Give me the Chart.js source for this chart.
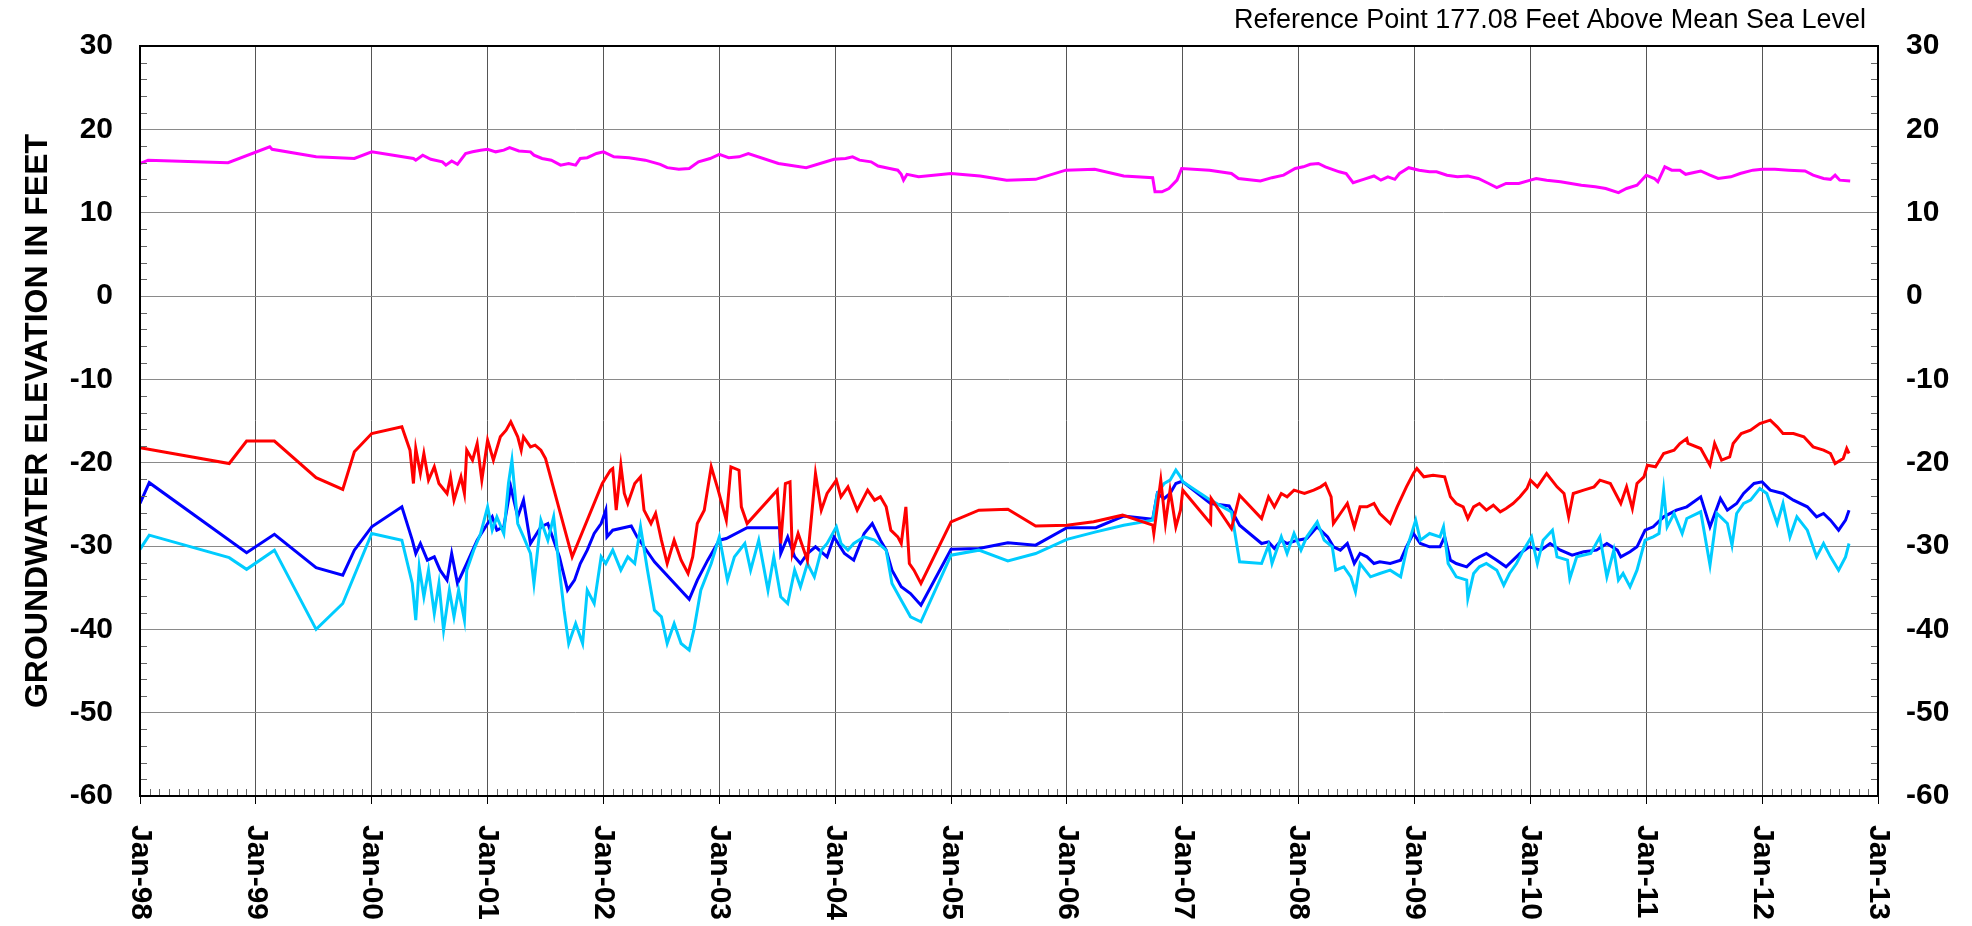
<!DOCTYPE html>
<html>
  <head>
    <title>Groundwater Elevation</title>
    <script src="https://cdn.jsdelivr.net/npm/chart.js"></script>
    <style>
      body { margin: 0; background: #fff; }
      #wrap { width: 1972px; height: 926px; }
    </style>
  </head>
  <body>
    <div id="wrap"><canvas id="levelChart"></canvas></div>

    <script>
      const yearLabels = ['Jan-98', 'Jan-99', 'Jan-00', 'Jan-01', 'Jan-02', 'Jan-03', 'Jan-04', 'Jan-05',
        'Jan-06', 'Jan-07', 'Jan-08', 'Jan-09', 'Jan-10', 'Jan-11', 'Jan-12', 'Jan-13'];
      const noteText = 'Reference Point 177.08 Feet Above Mean Sea Level';
      const axisTitle = 'GROUNDWATER ELEVATION IN FEET';

      // magenta well
      const magentaYears = [1998.00, 1998.07, 1998.76, 1999.12, 1999.14, 1999.52, 1999.85, 2000.00, 2000.36, 2000.38,
        2000.44, 2000.51, 2000.61, 2000.64, 2000.69, 2000.74, 2000.81, 2000.87, 2000.94, 2001.00,
        2001.07, 2001.14, 2001.19, 2001.27, 2001.37, 2001.40, 2001.47, 2001.55, 2001.63, 2001.70,
        2001.76, 2001.80, 2001.86, 2001.94, 2002.00, 2002.09, 2002.22, 2002.36, 2002.49, 2002.55,
        2002.65, 2002.74, 2002.82, 2002.92, 2003.00, 2003.08, 2003.17, 2003.25, 2003.51, 2003.75,
        2003.99, 2004.09, 2004.15, 2004.21, 2004.31, 2004.37, 2004.47, 2004.54, 2004.57, 2004.59,
        2004.62, 2004.72, 2005.00, 2005.25, 2005.48, 2005.73, 2005.99, 2006.24, 2006.49, 2006.74,
        2006.76, 2006.82, 2006.88, 2006.95, 2006.99, 2007.23, 2007.42, 2007.48, 2007.67, 2007.77,
        2007.87, 2007.97, 2008.04, 2008.10, 2008.17, 2008.23, 2008.35, 2008.41, 2008.47, 2008.56,
        2008.65, 2008.71, 2008.77, 2008.83, 2008.87, 2008.95, 2009.04, 2009.13, 2009.19, 2009.28,
        2009.37, 2009.46, 2009.55, 2009.64, 2009.71, 2009.79, 2009.90, 2010.00, 2010.05, 2010.14,
        2010.26, 2010.35, 2010.44, 2010.56, 2010.65, 2010.76, 2010.83, 2010.92, 2011.00, 2011.07,
        2011.10, 2011.16, 2011.22, 2011.29, 2011.34, 2011.47, 2011.55, 2011.62, 2011.73, 2011.81,
        2011.92, 2012.00, 2012.11, 2012.23, 2012.37, 2012.44, 2012.53, 2012.59, 2012.63, 2012.67,
        2012.76];
      const magentaFeet = [15.9, 16.3, 16.0, 17.9, 17.6, 16.7, 16.5, 17.3, 16.5, 16.3,
        16.9, 16.4, 16.1, 15.7, 16.2, 15.8, 17.1, 17.3, 17.5, 17.6,
        17.3, 17.5, 17.8, 17.4, 17.3, 16.9, 16.5, 16.3, 15.7, 15.9,
        15.7, 16.5, 16.6, 17.1, 17.3, 16.7, 16.6, 16.3, 15.8, 15.4,
        15.2, 15.3, 16.1, 16.5, 17.0, 16.6, 16.7, 17.1, 15.9, 15.4,
        16.4, 16.5, 16.7, 16.3, 16.1, 15.6, 15.3, 15.1, 14.6, 13.9,
        14.6, 14.3, 14.7, 14.4, 13.9, 14.0, 15.1, 15.2, 14.4, 14.2,
        12.5, 12.5, 12.9, 13.9, 15.3, 15.1, 14.7, 14.1, 13.8, 14.2,
        14.5, 15.3, 15.5, 15.8, 15.9, 15.5, 14.9, 14.7, 13.6, 14.0,
        14.4, 13.9, 14.3, 14.0, 14.7, 15.4, 15.1, 14.9, 14.9, 14.5,
        14.3, 14.4, 14.1, 13.5, 13.0, 13.5, 13.5, 13.9, 14.1, 13.9,
        13.7, 13.5, 13.3, 13.1, 12.9, 12.4, 12.9, 13.3, 14.5, 14.1,
        13.7, 15.5, 15.1, 15.1, 14.6, 15.0, 14.5, 14.1, 14.3, 14.7,
        15.1, 15.2, 15.2, 15.1, 15.0, 14.5, 14.1, 14.0, 14.5, 13.9,
        13.8];

      // red well
      const redYears = [1998.00, 1998.77, 1998.92, 1999.16, 1999.52, 1999.75, 1999.85, 2000.00, 2000.26, 2000.33,
        2000.36, 2000.38, 2000.42, 2000.45, 2000.49, 2000.54, 2000.58, 2000.65, 2000.68, 2000.71,
        2000.77, 2000.80, 2000.82, 2000.87, 2000.91, 2000.95, 2001.00, 2001.05, 2001.11, 2001.16,
        2001.20, 2001.26, 2001.29, 2001.31, 2001.37, 2001.41, 2001.46, 2001.50, 2001.73, 2001.99,
        2002.06, 2002.08, 2002.11, 2002.15, 2002.18, 2002.21, 2002.27, 2002.32, 2002.35, 2002.41,
        2002.45, 2002.50, 2002.55, 2002.61, 2002.67, 2002.73, 2002.77, 2002.81, 2002.87, 2002.93,
        2002.99, 2003.06, 2003.10, 2003.17, 2003.19, 2003.24, 2003.50, 2003.53, 2003.57, 2003.61,
        2003.63, 2003.68, 2003.73, 2003.76, 2003.79, 2003.83, 2003.88, 2003.93, 2004.01, 2004.05,
        2004.11, 2004.19, 2004.28, 2004.34, 2004.39, 2004.44, 2004.48, 2004.54, 2004.57, 2004.61,
        2004.64, 2004.68, 2004.74, 2005.00, 2005.24, 2005.49, 2005.73, 2006.00, 2006.23, 2006.48,
        2006.74, 2006.75, 2006.81, 2006.85, 2006.89, 2006.94, 2006.98, 2007.00, 2007.24, 2007.245,
        2007.42, 2007.49, 2007.68, 2007.74, 2007.79, 2007.85, 2007.90, 2007.96, 2008.05, 2008.13,
        2008.19, 2008.23, 2008.28, 2008.30, 2008.36, 2008.42, 2008.48, 2008.53, 2008.59, 2008.65,
        2008.70, 2008.79, 2008.85, 2008.93, 2008.99, 2009.02, 2009.08, 2009.16, 2009.26, 2009.31,
        2009.36, 2009.42, 2009.46, 2009.51, 2009.56, 2009.62, 2009.68, 2009.74, 2009.79, 2009.85,
        2009.91, 2009.97, 2010.00, 2010.06, 2010.14, 2010.23, 2010.29, 2010.33, 2010.37, 2010.46,
        2010.55, 2010.60, 2010.69, 2010.78, 2010.83, 2010.88, 2010.92, 2010.98, 2011.01, 2011.08,
        2011.15, 2011.24, 2011.29, 2011.35, 2011.36, 2011.47, 2011.55, 2011.59, 2011.65, 2011.72,
        2011.75, 2011.82, 2011.90, 2011.98, 2012.07, 2012.13, 2012.18, 2012.27, 2012.36, 2012.44,
        2012.53, 2012.59, 2012.63, 2012.70, 2012.73, 2012.75];
      const redFeet = [-18.2, -20.1, -17.4, -17.4, -21.8, -23.2, -18.7, -16.5, -15.7, -18.5,
        -22.5, -18.3, -21.3, -18.9, -22.1, -20.5, -22.5, -23.7, -21.7, -24.5,
        -21.7, -23.7, -18.5, -19.7, -17.7, -22.1, -17.3, -19.7, -16.9, -16.1,
        -15.1, -16.9, -18.5, -16.9, -18.1, -17.9, -18.5, -19.5, -31.3, -22.5,
        -20.9, -20.7, -25.7, -20.3, -23.7, -24.9, -22.5, -21.7, -25.7, -27.3,
        -26.1, -29.3, -32.1, -29.3, -31.7, -33.3, -31.3, -27.3, -25.7, -20.5,
        -23.3, -26.9, -20.5, -20.9, -25.3, -27.3, -23.3, -29.7, -22.5, -22.3,
        -30.9, -28.5, -30.5, -31.7, -27.3, -21.3, -25.7, -23.7, -22.1, -24.1,
        -22.9, -25.7, -23.3, -24.5, -24.1, -25.3, -28.1, -28.9, -29.7, -25.3,
        -32.1, -32.9, -34.5, -27.1, -25.7, -25.6, -27.6, -27.5, -27.1, -26.3,
        -27.5, -28.5, -22.1, -27.3, -23.3, -27.7, -25.7, -23.3, -27.3, -24.3,
        -27.9, -23.9, -26.7, -24.1, -25.3, -23.7, -24.1, -23.3, -23.7, -23.3,
        -22.9, -22.5, -24.1, -27.3, -26.1, -24.9, -27.7, -25.3, -25.3, -24.9,
        -26.1, -27.3, -25.3, -22.9, -21.3, -20.7, -21.7, -21.5, -21.7, -24.1,
        -24.9, -25.3, -26.7, -25.3, -24.9, -25.7, -25.1, -25.9, -25.5, -24.9,
        -24.1, -23.1, -22.1, -22.9, -21.3, -22.9, -23.7, -26.5, -23.7, -23.3,
        -22.9, -22.1, -22.5, -24.9, -22.9, -25.5, -22.5, -21.7, -20.3, -20.5,
        -18.9, -18.5, -17.7, -17.1, -17.7, -18.3, -20.3, -17.7, -19.7, -19.3,
        -17.7, -16.5, -16.1, -15.3, -14.9, -15.7, -16.5, -16.5, -16.9, -18.1,
        -18.5, -18.9, -20.1, -19.5, -18.3, -18.9];

      // blue well
      const blueYears = [1998.00, 1998.08, 1998.92, 1999.16, 1999.52, 1999.75, 1999.85, 2000.00, 2000.26, 2000.35,
        2000.38, 2000.42, 2000.48, 2000.54, 2000.59, 2000.65, 2000.69, 2000.74, 2000.82, 2000.91,
        2001.00, 2001.04, 2001.08, 2001.14, 2001.20, 2001.26, 2001.31, 2001.37, 2001.46, 2001.52,
        2001.57, 2001.62, 2001.69, 2001.75, 2001.80, 2001.86, 2001.92, 2001.98, 2002.02, 2002.03,
        2002.08, 2002.24, 2002.29, 2002.44, 2002.74, 2002.81, 2002.90, 2003.00, 2003.06, 2003.24,
        2003.52, 2003.53, 2003.59, 2003.65, 2003.70, 2003.76, 2003.83, 2003.93, 2003.99, 2004.08,
        2004.16, 2004.25, 2004.32, 2004.39, 2004.44, 2004.49, 2004.57, 2004.65, 2004.74, 2005.00,
        2005.24, 2005.49, 2005.73, 2006.00, 2006.25, 2006.49, 2006.74, 2006.78, 2006.84, 2006.89,
        2006.94, 2006.98, 2007.00, 2007.24, 2007.40, 2007.49, 2007.68, 2007.74, 2007.79, 2007.85,
        2007.90, 2007.99, 2008.07, 2008.16, 2008.25, 2008.30, 2008.36, 2008.42, 2008.48, 2008.53,
        2008.59, 2008.65, 2008.70, 2008.79, 2008.88, 2008.93, 2008.99, 2009.05, 2009.13, 2009.22,
        2009.26, 2009.31, 2009.36, 2009.45, 2009.51, 2009.56, 2009.62, 2009.71, 2009.79, 2009.85,
        2009.91, 2009.99, 2010.09, 2010.17, 2010.26, 2010.36, 2010.46, 2010.57, 2010.66, 2010.75,
        2010.78, 2010.86, 2010.92, 2010.99, 2011.06, 2011.15, 2011.26, 2011.35, 2011.47, 2011.55,
        2011.64, 2011.70, 2011.78, 2011.84, 2011.93, 2012.00, 2012.07, 2012.18, 2012.27, 2012.39,
        2012.47, 2012.53, 2012.59, 2012.66, 2012.72, 2012.75];
      const blueFeet = [-24.9, -22.4, -30.8, -28.6, -32.6, -33.5, -30.5, -27.7, -25.3, -29.3,
        -30.9, -29.7, -31.7, -31.3, -32.9, -34.1, -30.9, -34.5, -32.1, -29.3,
        -27.3, -26.5, -28.1, -27.7, -22.9, -26.5, -24.5, -29.7, -27.7, -27.3,
        -29.3, -31.3, -35.3, -34.1, -32.1, -30.5, -28.5, -27.3, -25.7, -28.9,
        -28.1, -27.6, -28.9, -31.9, -36.4, -34.1, -31.7, -29.3, -29.1, -27.8,
        -27.8, -30.9, -28.9, -31.3, -32.1, -30.9, -30.1, -31.3, -28.9, -30.9,
        -31.7, -28.5, -27.3, -29.3, -30.5, -32.9, -34.9, -35.7, -37.1, -30.4,
        -30.3, -29.6, -29.9, -27.8, -27.8, -26.4, -26.8, -23.7, -24.3, -23.7,
        -22.5, -22.3, -22.3, -24.9, -25.2, -27.5, -29.7, -29.5, -30.3, -29.3,
        -29.7, -29.3, -29.1, -27.7, -28.9, -30.1, -30.5, -29.7, -32.1, -30.9,
        -31.3, -32.1, -31.9, -32.1, -31.7, -30.1, -28.5, -29.7, -30.1, -30.1,
        -28.9, -31.7, -32.1, -32.5, -31.7, -31.3, -30.9, -31.7, -32.5, -31.7,
        -30.9, -30.1, -30.5, -29.7, -30.5, -31.1, -30.7, -30.5, -29.7, -30.5,
        -31.3, -30.7, -30.1, -28.1, -27.7, -26.5, -25.7, -25.3, -24.1, -27.7,
        -24.3, -25.7, -24.9, -23.7, -22.5, -22.3, -23.3, -23.7, -24.5, -25.3,
        -26.5, -26.1, -26.9, -28.1, -26.9, -25.7];

      // cyan well
      const cyanYears = [1998.00, 1998.08, 1998.77, 1998.92, 1999.16, 1999.52, 1999.75, 2000.00, 2000.26, 2000.35,
        2000.38, 2000.41, 2000.45, 2000.49, 2000.54, 2000.58, 2000.62, 2000.67, 2000.71, 2000.75,
        2000.80, 2000.82, 2000.88, 2000.94, 2001.00, 2001.04, 2001.08, 2001.14, 2001.18, 2001.21,
        2001.26, 2001.31, 2001.37, 2001.40, 2001.46, 2001.52, 2001.57, 2001.62, 2001.66, 2001.70,
        2001.76, 2001.82, 2001.86, 2001.92, 2001.98, 2002.02, 2002.08, 2002.15, 2002.21, 2002.27,
        2002.32, 2002.38, 2002.44, 2002.50, 2002.55, 2002.61, 2002.67, 2002.74, 2002.78, 2002.84,
        2002.93, 2003.00, 2003.07, 2003.13, 2003.22, 2003.27, 2003.34, 2003.42, 2003.47, 2003.53,
        2003.59, 2003.65, 2003.70, 2003.76, 2003.82, 2003.88, 2003.93, 2004.01, 2004.05, 2004.11,
        2004.16, 2004.25, 2004.34, 2004.44, 2004.49, 2004.57, 2004.65, 2004.74, 2005.00, 2005.24,
        2005.49, 2005.73, 2006.00, 2006.25, 2006.49, 2006.74, 2006.78, 2006.84, 2006.89, 2006.94,
        2006.98, 2007.00, 2007.24, 2007.42, 2007.49, 2007.68, 2007.74, 2007.77, 2007.85, 2007.90,
        2007.96, 2008.02, 2008.07, 2008.16, 2008.22, 2008.29, 2008.32, 2008.39, 2008.45, 2008.49,
        2008.53, 2008.62, 2008.70, 2008.79, 2008.88, 2008.93, 2009.01, 2009.05, 2009.13, 2009.22,
        2009.25, 2009.29, 2009.36, 2009.45, 2009.46, 2009.51, 2009.56, 2009.62, 2009.71, 2009.77,
        2009.82, 2009.88, 2009.94, 2010.01, 2010.06, 2010.11, 2010.19, 2010.23, 2010.32, 2010.34,
        2010.40, 2010.52, 2010.60, 2010.66, 2010.72, 2010.76, 2010.80, 2010.86, 2010.92, 2010.99,
        2011.06, 2011.11, 2011.15, 2011.18, 2011.24, 2011.31, 2011.35, 2011.47, 2011.55, 2011.61,
        2011.70, 2011.74, 2011.78, 2011.84, 2011.90, 2011.98, 2012.04, 2012.13, 2012.18, 2012.24,
        2012.30, 2012.39, 2012.47, 2012.53, 2012.59, 2012.66, 2012.72, 2012.75];
      const cyanFeet = [-30.4, -28.7, -31.4, -32.8, -30.5, -40.0, -36.9, -28.5, -29.3, -34.5,
        -38.9, -32.5, -36.1, -32.9, -38.1, -34.5, -40.1, -35.3, -38.5, -35.3,
        -38.9, -32.9, -30.5, -28.5, -25.3, -28.1, -26.5, -28.5, -22.5, -19.7,
        -27.3, -28.9, -30.9, -34.5, -26.9, -29.3, -26.5, -32.9, -37.7, -41.7,
        -39.3, -41.7, -35.3, -36.9, -31.3, -32.1, -30.5, -32.9, -31.3, -32.1,
        -27.7, -32.9, -37.7, -38.5, -41.7, -39.3, -41.7, -42.5, -40.1, -35.3,
        -32.1, -28.9, -34.1, -31.3, -29.7, -32.9, -29.3, -35.3, -31.3, -36.1,
        -36.9, -32.9, -34.9, -32.1, -33.7, -30.5, -29.7, -27.7, -29.7, -30.5,
        -29.7, -28.9, -29.3, -30.5, -34.5, -36.5, -38.5, -39.1, -31.1, -30.5,
        -31.8, -30.9, -29.2, -28.3, -27.5, -26.9, -23.7, -22.5, -22.1, -20.9,
        -21.7, -22.3, -24.5, -25.9, -31.9, -32.1, -29.9, -32.1, -28.9, -30.9,
        -28.5, -30.5, -28.9, -27.1, -29.3, -30.1, -32.9, -32.5, -33.7, -35.5,
        -32.1, -33.7, -33.3, -32.9, -33.7, -30.5, -26.9, -29.3, -28.5, -28.9,
        -27.7, -32.1, -33.7, -34.1, -36.3, -33.3, -32.5, -32.1, -32.9, -34.7,
        -33.3, -32.1, -30.5, -28.9, -32.1, -29.3, -28.1, -31.3, -31.7, -33.9,
        -31.3, -30.9, -28.9, -33.7, -30.5, -34.1, -33.3, -34.9, -32.9, -29.3,
        -28.9, -28.5, -23.3, -27.7, -26.1, -28.5, -26.7, -25.9, -32.3, -26.1,
        -27.3, -29.9, -26.1, -24.9, -24.5, -23.1, -23.7, -27.3, -24.9, -28.9,
        -26.5, -28.1, -31.3, -29.7, -31.3, -32.9, -31.3, -29.7];

      const fontFamily = '"Liberation Sans", Arial, sans-serif';

      function toPoints(years, feet) {
        return years.map((yr, i) => ({ x: yr, y: feet[i] }));
      }

      function series(label, years, feet, color) {
        return {
          label: label,
          data: toPoints(years, feet),
          borderColor: color,
          backgroundColor: color,
          borderWidth: 3,
          pointRadius: 0,
          tension: 0,
          fill: false,
        };
      }

      // frame, minor ticks, rotated year labels and the reference note
      const decorations = {
        id: 'decorations',
        afterDraw(chart) {
          const ctx = chart.ctx;
          const area = chart.chartArea;
          const xs = chart.scales.x;
          const ys = chart.scales.y;
          ctx.save();

          ctx.lineWidth = 1;
          ctx.strokeStyle = '#666';
          ctx.beginPath();
          for (let v = -58; v < 30; v += 2) {
            if (v % 10 === 0) continue;
            const py = Math.round(ys.getPixelForValue(v)) + 0.5;
            ctx.moveTo(area.left, py);
            ctx.lineTo(area.left + 7, py);
            ctx.moveTo(area.right - 7, py);
            ctx.lineTo(area.right, py);
          }
          for (let m = 1; m < 180; m++) {
            if (m % 12 === 0) continue;
            const px = Math.round(xs.getPixelForValue(1998 + m / 12)) + 0.5;
            ctx.moveTo(px, area.bottom);
            ctx.lineTo(px, area.bottom - 7);
          }
          ctx.stroke();

          ctx.lineWidth = 2;
          ctx.strokeStyle = '#000';
          ctx.strokeRect(area.left, area.top, area.right - area.left, area.bottom - area.top);

          ctx.fillStyle = '#000';
          ctx.font = 'bold 30px ' + fontFamily;
          ctx.textAlign = 'left';
          ctx.textBaseline = 'middle';
          xs.ticks.forEach((t, i) => {
            const px = xs.getPixelForValue(t.value);
            ctx.save();
            ctx.translate(px, area.bottom + 29);
            ctx.rotate(Math.PI / 2);
            ctx.fillText(yearLabels[i], 0, 0);
            ctx.restore();
          });

          ctx.font = '27px ' + fontFamily;
          ctx.textAlign = 'right';
          ctx.textBaseline = 'alphabetic';
          ctx.fillText(noteText, area.right - 12, 28);
          ctx.restore();
        },
      };

      const tickFont = { family: fontFamily, size: 30, weight: 'bold' };

      const ctx = document.getElementById('levelChart').getContext('2d');
      const chart = new Chart(ctx, {
        type: 'line',
        data: {
          datasets: [
            series('Red', redYears, redFeet, '#ff0000'),
            series('Cyan', cyanYears, cyanFeet, '#00ccff'),
            series('Blue', blueYears, blueFeet, '#0000ff'),
            series('Magenta', magentaYears, magentaFeet, '#ff00ff'),
          ],
        },
        options: {
          responsive: true,
          maintainAspectRatio: false,
          animation: false,
          layout: { padding: { top: 38, left: 0, right: 0, bottom: 0 } },
          plugins: {
            legend: { display: false },
            tooltip: { enabled: false },
          },
          scales: {
            x: {
              type: 'linear',
              min: 1998,
              max: 2013,
              ticks: { stepSize: 1, display: false },
              grid: { color: '#555', lineWidth: 1, drawTicks: true, tickLength: 8, tickColor: '#000' },
              border: { display: true, color: '#000', width: 2 },
              afterFit: (scale) => { scale.height = 130; },
            },
            y: {
              position: 'left',
              min: -60,
              max: 30,
              ticks: { stepSize: 10, color: '#000', font: tickFont, padding: 27 },
              grid: { color: '#8a8a8a', lineWidth: 1, drawTicks: false },
              border: { display: true, color: '#000', width: 2 },
              title: {
                display: true,
                text: axisTitle,
                color: '#000',
                font: { family: fontFamily, size: 32, weight: 'bold' },
                padding: { top: 19, bottom: 0 },
              },
              afterFit: (scale) => { scale.width = 140; },
            },
            y2: {
              position: 'right',
              min: -60,
              max: 30,
              ticks: { stepSize: 10, color: '#000', font: tickFont, padding: 28 },
              grid: { drawOnChartArea: false, drawTicks: false },
              border: { display: true, color: '#000', width: 2 },
              afterFit: (scale) => { scale.width = 94; },
            },
          },
        },
        plugins: [decorations],
      });
    </script>
  </body>
</html>
